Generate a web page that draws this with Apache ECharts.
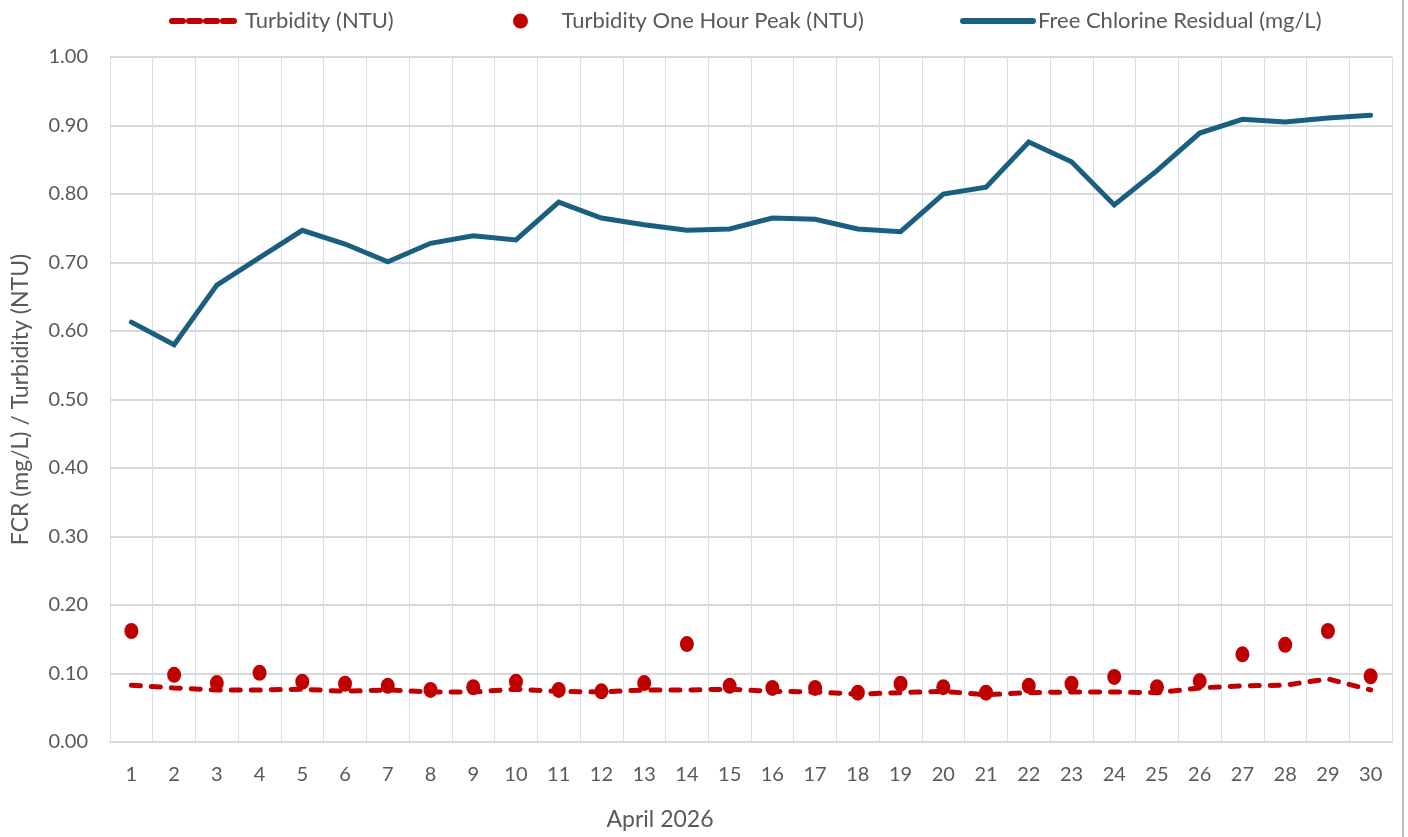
<!DOCTYPE html>
<html>
<head>
<meta charset="utf-8">
<script src="https://cdn.jsdelivr.net/npm/echarts@6/dist/echarts.min.js"></script>
<style>
html,body{margin:0;padding:0;background:#fff;}
#chart{width:1408px;height:837px;}
</style>
</head>
<body>
<div id="chart"></div>
<script>
const days = ['1','2','3','4','5','6','7','8','9','10','11','12','13','14','15','16','17','18','19','20','21','22','23','24','25','26','27','28','29','30'];
const turbidity = [0.083,0.079,0.076,0.076,0.077,0.074,0.076,0.073,0.073,0.077,0.074,0.073,0.076,0.076,0.077,0.074,0.073,0.070,0.072,0.074,0.069,0.072,0.073,0.073,0.072,0.079,0.082,0.083,0.092,0.076];
const turbidityPeak = [0.162,0.098,0.086,0.101,0.088,0.085,0.082,0.076,0.080,0.088,0.076,0.074,0.086,0.143,0.082,0.079,0.079,0.072,0.085,0.080,0.072,0.082,0.085,0.095,0.080,0.089,0.128,0.142,0.162,0.096];
const fcr = [0.613,0.580,0.667,0.707,0.747,0.727,0.701,0.728,0.739,0.733,0.788,0.765,0.755,0.747,0.749,0.765,0.763,0.749,0.745,0.800,0.810,0.876,0.847,0.784,0.834,0.889,0.909,0.905,0.911,0.915];
const seriesNames = ['Turbidity (NTU)','Turbidity One Hour Peak (NTU)','Free Chlorine Residual (mg/L)'];

const FONT = 'Lato';
const TXT = '#595959';
const chart = echarts.init(document.getElementById('chart'));
const legendText = {color: TXT, fontSize: 22, fontFamily: FONT};
chart.setOption({
  animation: false,
  backgroundColor: '#fff',
  textStyle: {fontFamily: FONT},
  legend: [
    {data: [seriesNames[0]], left: 164, top: 5, itemWidth: 68, itemHeight: 16, textStyle: legendText,
     itemStyle: {opacity: 0}, lineStyle: {width: 6, type: [11, 6], cap: 'round'}},
    {data: [seriesNames[1]], left: 508, top: 5, itemWidth: 72, itemHeight: 15, symbolKeepAspect: true, textStyle: legendText},
    {data: [seriesNames[2]], left: 955, top: 5, itemWidth: 70, itemHeight: 16, textStyle: legendText,
     itemStyle: {opacity: 0}, lineStyle: {width: 6, cap: 'round'}}
  ],
  grid: {left: 110, right: 16, top: 57, bottom: 95, containLabel: false, outerBoundsMode: 'none'},
  xAxis: {
    type: 'category',
    data: days,
    boundaryGap: true,
    name: 'April 2026',
    nameLocation: 'middle',
    nameGap: 66,
    nameTextStyle: {color: TXT, fontSize: 23, fontFamily: FONT, padding: [0, 182, 0, 0]},
    axisLine: {show: true, lineStyle: {color: '#d9d9d9', width: 2}},
    axisTick: {show: false},
    axisLabel: {color: TXT, fontSize: 20, fontFamily: FONT, margin: 23, interval: 0},
    splitLine: {show: true, interval: 0, lineStyle: {color: '#d5e0ef', width: 1}}
  },
  yAxis: {
    type: 'value',
    min: 0,
    max: 1,
    interval: 0.1,
    name: 'FCR (mg/L) / Turbidity (NTU)',
    nameLocation: 'middle',
    nameGap: 78,
    nameTextStyle: {color: TXT, fontSize: 23, fontFamily: FONT},
    axisLine: {show: true, lineStyle: {color: '#d9d9d9', width: 1}},
    axisTick: {show: false},
    axisLabel: {color: TXT, fontSize: 20, fontFamily: FONT, margin: 22, formatter: v => v.toFixed(2)},
    splitLine: {show: true, lineStyle: {color: '#d9d9d9', width: 2}}
  },
  series: [
    {
      name: seriesNames[0], type: 'line', data: turbidity, symbol: 'none', z: 3,
      lineStyle: {color: '#c00000', width: 5, type: [9, 11], cap: 'round'},
      itemStyle: {color: '#c00000'}
    },
    {
      name: seriesNames[1], type: 'scatter', data: turbidityPeak, symbol: 'circle', symbolSize: [14, 16], z: 4,
      itemStyle: {color: '#c00000', opacity: 1}
    },
    {
      name: seriesNames[2], type: 'line', data: fcr, symbol: 'none', z: 2,
      lineStyle: {color: '#1a5f80', width: 5, cap: 'round', join: 'miter'},
      itemStyle: {color: '#1a5f80'}
    }
  ],
  graphic: [
    {type: 'line', shape: {x1: 1403, y1: 0, x2: 1403, y2: 837}, style: {stroke: '#a6a6a6', lineWidth: 1.5}, silent: true}
  ]
});
</script>
</body>
</html>
